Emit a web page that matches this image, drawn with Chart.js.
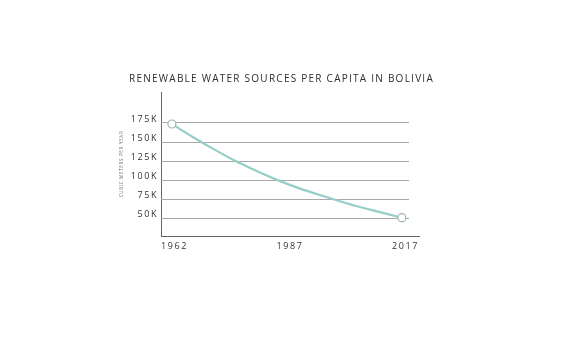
<!DOCTYPE html>
<html>
<head>
<meta charset="utf-8">
<script src="https://cdn.jsdelivr.net/npm/chart.js@4/dist/chart.umd.min.js"></script>
<style>
  html, body { margin: 0; padding: 0; background: #fff; }
  #wrap { position: relative; width: 576px; height: 343px; }
  #title {
    position: absolute; left: 0; top: 72px; width: 563px;
    text-align: center; font: 10px "Open Sans", sans-serif;
    letter-spacing: 1.25px; color: #2e2e2e; line-height: 12px;
  }
</style>
</head>
<body>
<div id="wrap">
  <div id="title">RENEWABLE WATER SOURCES PER CAPITA IN BOLIVIA</div>
  <canvas id="chart" width="576" height="343"></canvas>
</div>
<script>
// data (cubic meters per person per year)
const years = [1962, 1967, 1972, 1977, 1982, 1987, 1992, 1997, 2002, 2007, 2012, 2017];
const waterPerCapita = [173000, 156000, 140000, 125000, 112000, 100000, 89500, 80500, 72000, 64000, 57000, 50000];
const yTicks = [50000, 75000, 100000, 125000, 150000, 175000];
const xTickLabels = ['1962', '1987', '2017'];

const points = years.map((yr, i) => ({ x: yr, y: waterPerCapita[i] }));
const lastIdx = points.length - 1;

// canvas letter spacing: small for the y title (grid layer), wider for tick labels (drawn after datasets)
const spacingPlugin = {
  id: 'spacing',
  beforeDraw(chart) { chart.ctx.letterSpacing = '0.7px'; },
  beforeDatasetsDraw(chart) {
    // shortened horizontal grid lines
    const { ctx, chartArea, scales } = chart;
    ctx.save();
    ctx.strokeStyle = '#a8a8a8';
    ctx.lineWidth = 1;
    scales.y.ticks.forEach(t => {
      const py = Math.round(scales.y.getPixelForValue(t.value)) + 0.5;
      ctx.beginPath();
      ctx.moveTo(chartArea.left, py);
      ctx.lineTo(chartArea.right - 10, py);
      ctx.stroke();
    });
    ctx.restore();
  },
  afterDatasetsDraw(chart) { chart.ctx.letterSpacing = '1.6px'; }
};

new Chart(document.getElementById('chart').getContext('2d'), {
  type: 'line',
  data: {
    datasets: [{
      data: points,
      xAxisID: 'x',
      yAxisID: 'y',
      borderColor: '#95cdc8',
      borderWidth: 2.2,
      cubicInterpolationMode: 'monotone',
      pointRadius: ctx => (ctx.dataIndex === 0 || ctx.dataIndex === lastIdx) ? 4 : 0,
      pointBackgroundColor: '#ffffff',
      pointBorderColor: '#9cb5b3',
      pointBorderWidth: 1.2,
      fill: false
    }]
  },
  options: {
    responsive: false,
    animation: false,
    layout: { padding: { left: 112, right: 157, top: 92, bottom: 87 } },
    plugins: { legend: { display: false }, tooltip: { enabled: false }, title: { display: false } },
    scales: {
      x: {
        type: 'linear',
        display: false,
        min: 1959.4,
        max: 2021.1
      },
      xl: {
        type: 'category',
        position: 'bottom',
        labels: xTickLabels,
        offset: false,
        grid: { display: false, drawTicks: false },
        border: { display: true, color: '#666', width: 1 },
        ticks: {
          z: 1, align: 'inner', padding: 5, maxRotation: 0,
          color: '#333', font: { family: 'Open Sans', size: 9 }
        },
        afterFit: s => { s.height = 20; }
      },
      y: {
        type: 'linear',
        position: 'left',
        min: 26000,
        max: 215000,
        afterBuildTicks: s => { s.ticks = yTicks.map(v => ({ value: v })); },
        grid: { display: false, drawTicks: false },
        border: { display: true, color: '#666', width: 1 },
        ticks: {
          z: 1, padding: 3, labelOffset: -3,
          color: '#333', font: { family: 'Open Sans', size: 9 },
          callback: v => (v / 1000) + 'K'
        },
        title: {
          display: true,
          text: 'CUBIC METERS PER YEAR',
          color: '#666',
          font: { family: 'Open Sans', size: 4.5 },
          padding: { top: 7, bottom: 0 }
        },
        afterFit: s => { s.width = 49; }
      }
    }
  },
  plugins: [spacingPlugin]
});
</script>
</body>
</html>
